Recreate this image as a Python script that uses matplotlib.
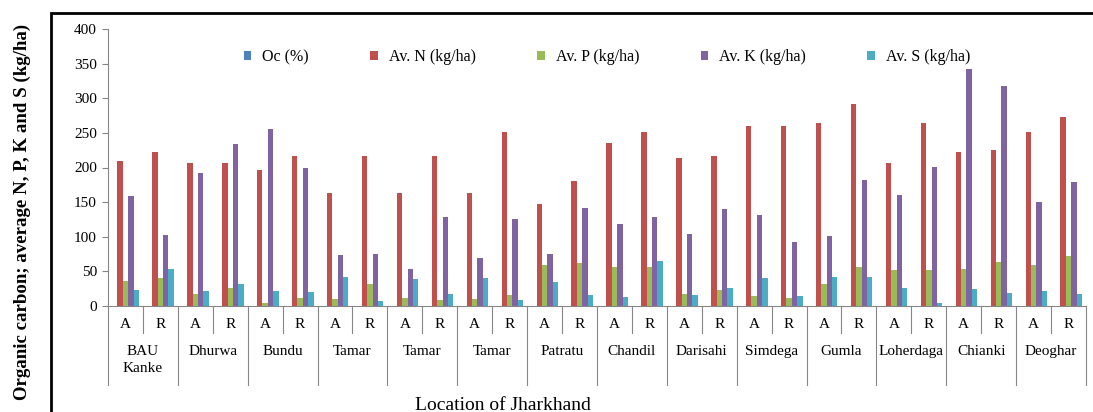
import numpy as np
import matplotlib
matplotlib.use('Agg')
import matplotlib.pyplot as plt
from matplotlib.patches import Rectangle
from matplotlib.transforms import blended_transform_factory

# data (A / R for each location)
locations = ['BAU\nKanke', 'Dhurwa', 'Bundu', 'Tamar', 'Tamar', 'Tamar', 'Patratu',
             'Chandil', 'Darisahi', 'Simdega', 'Gumla', 'Loherdaga', 'Chianki', 'Deoghar']
sub_labels = ['A', 'R'] * len(locations)

oc = [0.52, 0.48, 0.45, 0.50, 0.42, 0.47, 0.40, 0.44, 0.41, 0.46, 0.43, 0.49, 0.55, 0.60,
      0.58, 0.62, 0.45, 0.50, 0.48, 0.44, 0.53, 0.57, 0.51, 0.55, 0.50, 0.54, 0.56, 0.61]
av_n = [209, 222, 206, 206, 197, 216, 163, 216, 163, 216, 163, 251, 147, 180,
        235, 251, 214, 216, 260, 260, 264, 291, 206, 264, 222, 225, 251, 273]
av_p = [36, 40, 18, 26, 5, 12, 10, 32, 12, 8, 10, 16, 59, 62,
        56, 57, 18, 23, 15, 12, 32, 56, 52, 52, 53, 64, 59, 72]
av_k = [159, 102, 192, 234, 256, 199, 74, 75, 53, 128, 70, 126, 75, 142,
        118, 128, 104, 140, 131, 93, 101, 182, 160, 201, 342, 318, 150, 179]
av_s = [23, 53, 21, 32, 21, 20, 42, 7, 39, 18, 40, 8, 34, 16,
        13, 65, 16, 26, 40, 15, 42, 42, 26, 5, 24, 19, 21, 18]

series = [oc, av_n, av_p, av_k, av_s]
names = ['Oc (%)', 'Av. N (kg/ha)', 'Av. P (kg/ha)', 'Av. K (kg/ha)', 'Av. S (kg/ha)']
colors = ['#4F81BD', '#C0504D', '#9BBB59', '#8064A2', '#4BACC6']

plt.rcParams['font.family'] = ['Liberation Serif', 'DejaVu Serif']

W, H = 1093, 412
fig = plt.figure(figsize=(W / 100, H / 100), dpi=100)
ax = fig.add_axes([108 / W, 1 - 306 / H, (1086 - 108) / W, (306 - 29) / H])

n = len(av_n)
x = np.arange(n)
w = 1 / 6.5
for k, (vals, name, col) in enumerate(zip(series, names, colors)):
    ax.bar(x + (k - 2) * w, vals, width=w, color=col, label=name, linewidth=0)

ax.set_xlim(-0.5, n - 0.5)
ax.set_ylim(0, 400)
ax.set_yticks(np.arange(0, 401, 50))
ax.tick_params(axis='y', length=4, color='#868686', labelsize=11, pad=4)
ax.set_xticks([])
for side in ['top', 'right']:
    ax.spines[side].set_visible(False)
ax.spines['left'].set_color('#868686')
ax.spines['bottom'].set_color('#868686')

# two-level category axis
trans = blended_transform_factory(ax.transData, ax.transAxes)
ah = 306 - 29
for i in range(n + 1):
    xe = i - 0.5
    depth = 79 if i % 2 == 0 else 27
    ax.plot([xe, xe], [0, -depth / ah], transform=trans, color='#868686', lw=0.8, clip_on=False)
for i, lab in enumerate(sub_labels):
    ax.text(i, -19 / ah, lab, transform=trans, ha='center', va='center', fontsize=11)
for j, loc in enumerate(locations):
    ax.text(2 * j + 0.5, -39 / ah, loc, transform=trans, ha='center', va='top',
            fontsize=11, linespacing=1.35)

fig.text(503 / W, 1 - 405 / H, 'Location of Jharkhand', ha='center', va='center', fontsize=14)
fig.text(22 / W, 1 - 24 / H, 'Organic carbon; average N, P, K and S (kg/ha)', rotation=90,
         ha='center', va='top', fontsize=13.6, fontweight='bold')

ax.legend(loc='center left', bbox_to_anchor=(136 / (1086 - 108), (306 - 57) / ah), ncol=5,
          frameon=False, fontsize=11.5, handlelength=0.45, handleheight=0.45,
          handletextpad=0.7, columnspacing=3.85, borderaxespad=0, borderpad=0)

# outer frame
fig.patches.append(Rectangle((51 / W, -0.05), 1.2, 1 - 13 / H + 0.05, transform=fig.transFigure,
                             fill=False, edgecolor='black', linewidth=2))

fig.savefig('out.png', dpi=100)
